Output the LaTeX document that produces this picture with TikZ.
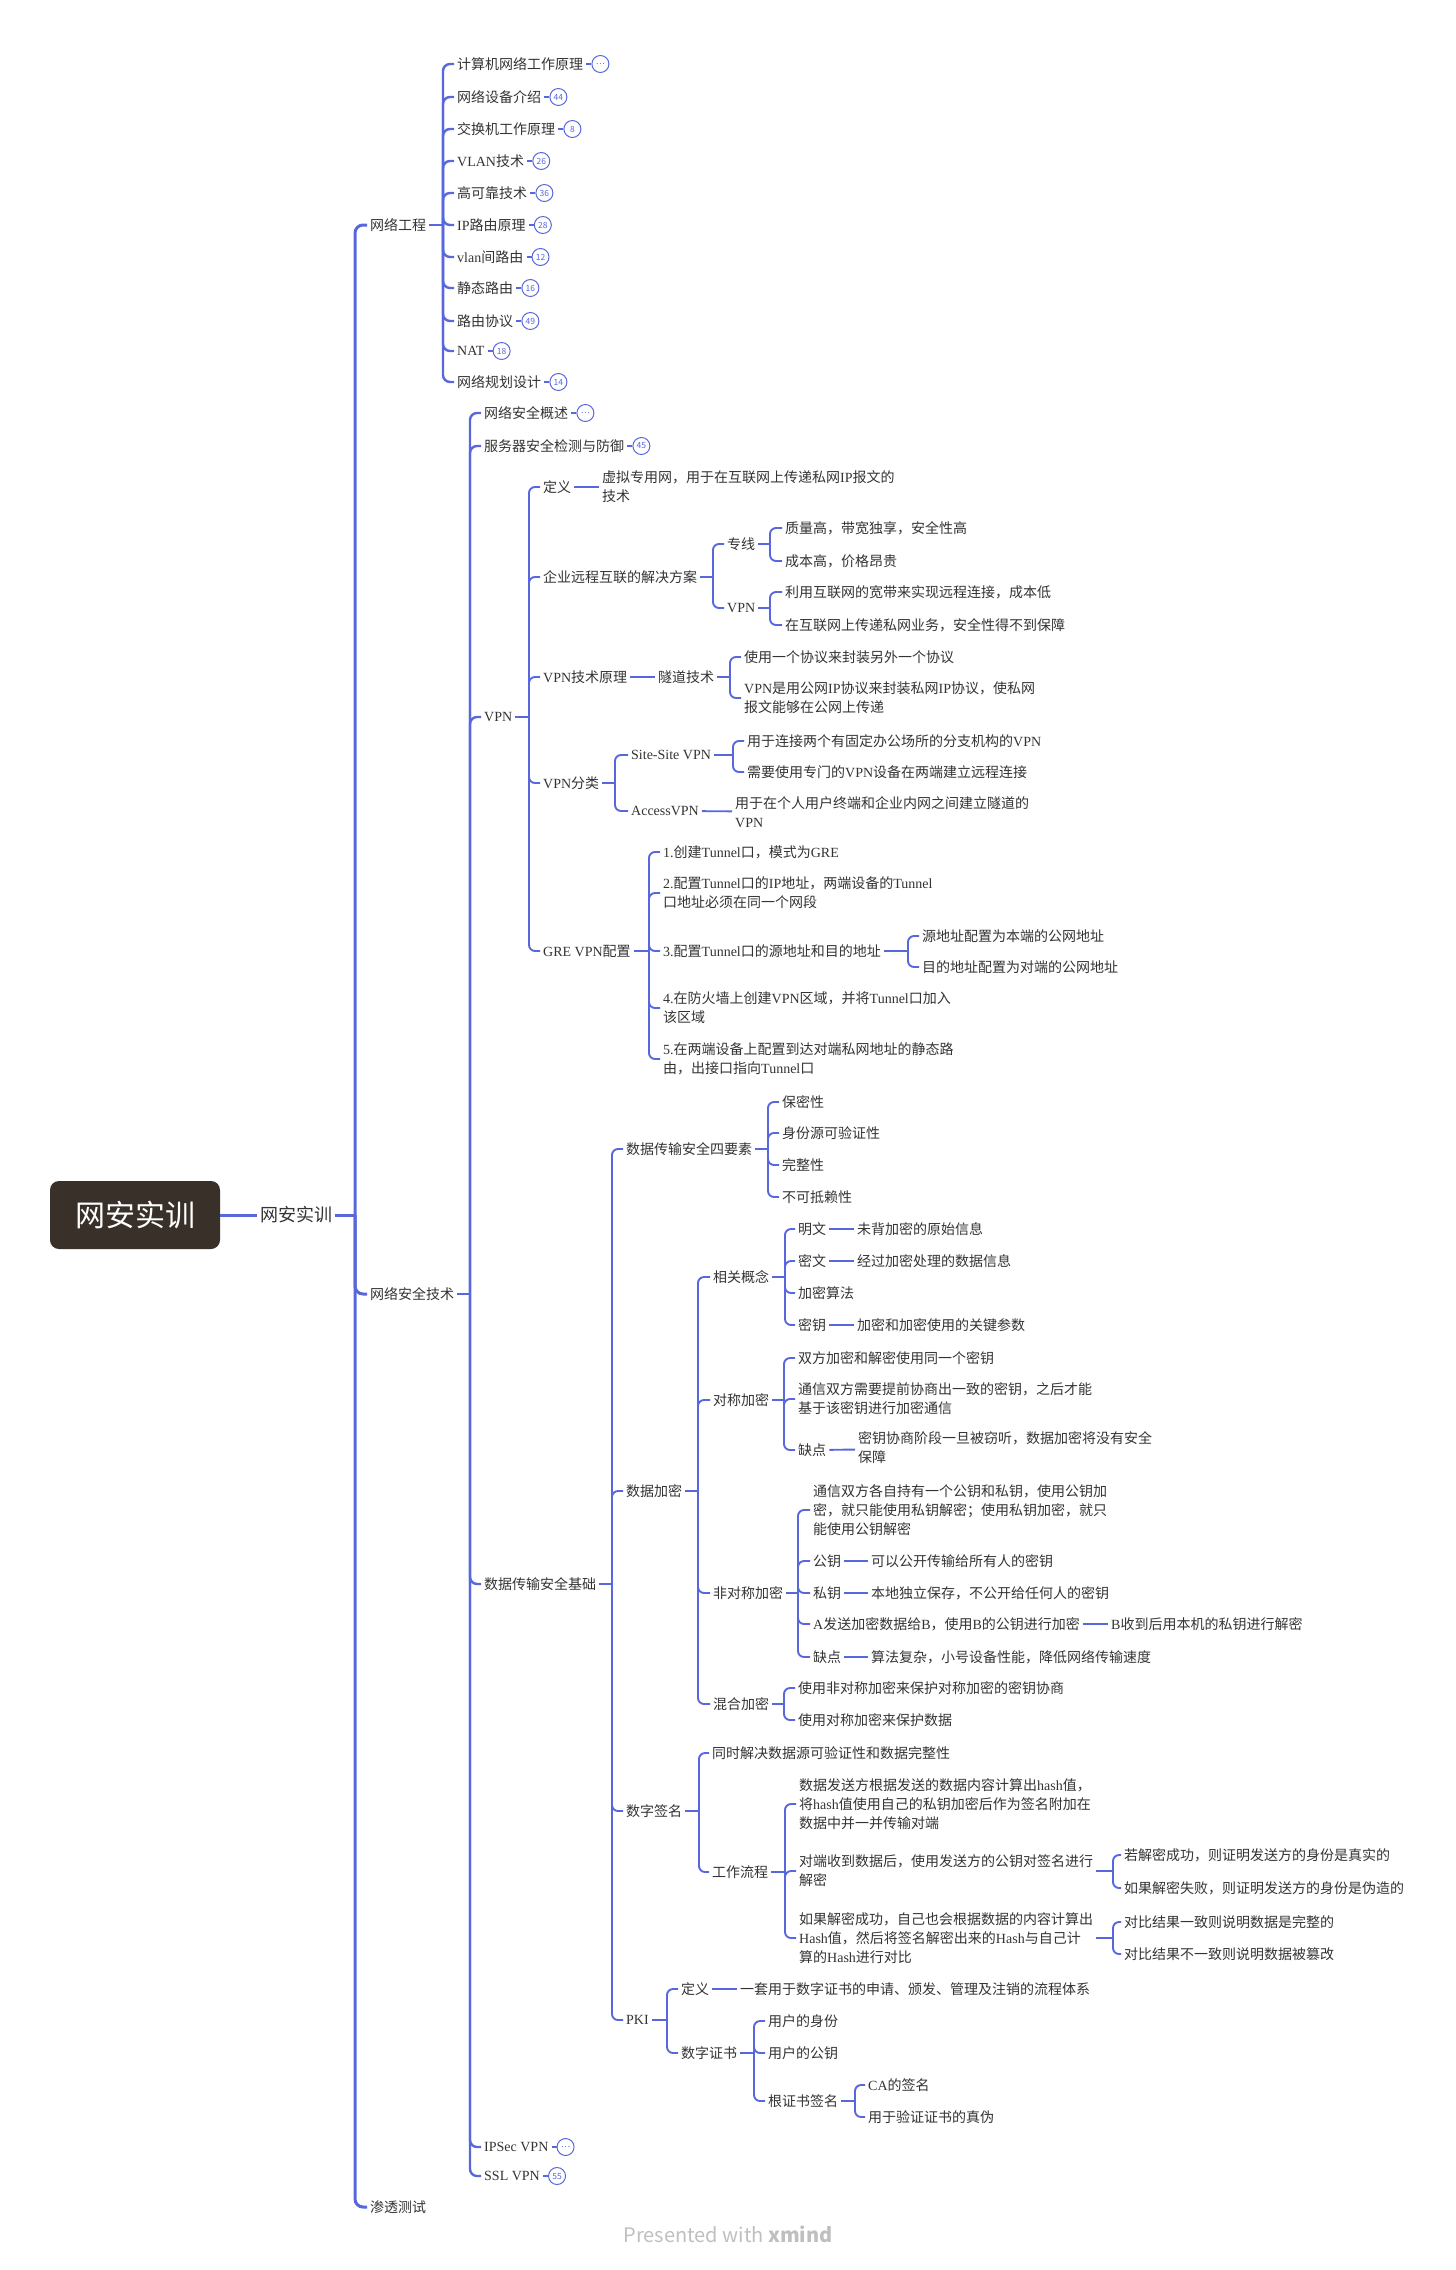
\documentclass[tikz,border=0pt]{standalone}
\usepackage{fontspec}
\setmainfont{Noto Sans CJK SC}
\newfontfamily\enfont{Liberation Serif}
\newcommand{\en}[1]{{\enfont #1}}
\newcommand{\more}{…}
\usetikzlibrary{positioning}
\definecolor{lk}{RGB}{88,104,220}
\definecolor{rootbg}{RGB}{57,49,41}
\definecolor{tx}{RGB}{51,51,51}
\begin{document}
\begin{tikzpicture}[x=1pt,y=-1pt,
	lk1/.style={draw=lk,line width=3pt,rounded corners=8pt},
	lk2/.style={draw=lk,line width=2.4pt,rounded corners=7pt},
	lk3/.style={draw=lk,line width=1.9pt,rounded corners=6pt},
	lkb/.style={draw=lk,line width=1.2pt},
	leaf/.style={anchor=west,xshift=-3pt,inner xsep=3pt,inner ysep=1pt,text=tx,align=left,font=\fontsize{14}{19}\selectfont},
	badge/.style={circle,draw=lk,line width=1pt,fill=white,minimum size=17pt,inner sep=0pt,text=lk,font=\fontsize{8.5}{8.5}\selectfont},
	root/.style={fill=rootbg,rounded corners=9pt,minimum width=170pt,minimum height=68pt,text=white,font=\fontsize{30}{30}\selectfont}]
		\useasboundingbox (0,0) rectangle (1456,2270);
		\node[root] (root) at (135,1215) {网安实训};
		\node[leaf,font=\fontsize{18}{18}\selectfont] (main) at (260,1215) {网安实训};
		\coordinate (s0) at (355,1215);
		\draw[lk1] (root.east) -- (main.west);
		\draw[lk1] (main.east) -- (s0);
		\node[leaf] (a) at (370,225) {网络工程};
		\node[leaf] (b) at (370,1294) {网络安全技术};
		\node[leaf] (c) at (370,2207) {渗透测试};
		\foreach \n in {a,b,c} \draw[lk1] (s0) |- (\n.west);
		\coordinate (sa) at (443,225);
		\draw[lk2] (a.east) -- (sa);
		\foreach \i/\y/\s/\m in {1/64/计算机网络工作原理/\more,2/97/网络设备介绍/44,3/129/交换机工作原理/8,4/161/{\en{VLAN}技术}/26,5/193/高可靠技术/36,6/225/{\en{IP}路由原理}/28,7/257/{\en{vlan}间路由}/12,8/288/静态路由/16,9/321/路由协议/49,10/351/{\en{NAT}}/18,11/382/网络规划设计/14}
		{
			\node[leaf] (a\i) at (457,\y) {\s};
			\node[badge,right=5pt of a\i] (a\i-b) {\m};
			\draw[lkb] (a\i) -- (a\i-b);
			\draw[lk2] (sa) |- (a\i.west);
		}
		\coordinate (sb) at (470,1294);
		\draw[lk2] (b.east) -- (sb);
		\node[leaf] (b1) at (484,413) {网络安全概述};
		\node[leaf] (b2) at (484,446) {服务器安全检测与防御};
		\node[leaf] (b3) at (484,717) {\en{VPN}};
		\node[leaf] (b4) at (484,1584) {数据传输安全基础};
		\node[leaf] (b5) at (484,2147) {\en{IPSec VPN}};
		\node[leaf] (b6) at (484,2176) {\en{SSL VPN}};
		\foreach \n in {b1,b2,b3,b4,b5,b6} \draw[lk2] (sb) |- (\n.west);
		\foreach \n/\m in {b1/\more,b2/45,b5/\more,b6/55}
		{
			\node[badge,right=5pt of \n] (\n-b) {\m};
			\draw[lkb] (\n) -- (\n-b);
		}
		\coordinate (s3) at (529,717);
		\draw[lk3] (b3.east) -- (s3);
		\node[leaf] (v1) at (543,487) {定义};
		\node[leaf] (v1a) at (602,487) {虚拟专用网，用于在互联网上传递私网\en{IP}报文的\\技术};
		\draw[lk3] (v1) -- (v1a);
		\node[leaf] (v2) at (543,577) {企业远程互联的解决方案};
		\node[leaf] (v3) at (543,677) {\en{VPN}技术原理};
		\node[leaf] (v4) at (543,783) {\en{VPN}分类};
		\node[leaf] (v5) at (543,951) {\en{GRE VPN}配置};
		\foreach \n in {v1,v2,v3,v4,v5} \draw[lk3] (s3) |- (\n.west);
		\coordinate (s32) at (713,577);
		\draw[lk3] (v2.east) -- (s32);
		\node[leaf] (v21) at (727,544) {专线};
		\node[leaf] (v22) at (727,608) {\en{VPN}};
		\foreach \n in {v21,v22} \draw[lk3] (s32) |- (\n.west);
		\coordinate (s321) at (770,544);
		\draw[lk3] (v21.east) -- (s321);
		\node[leaf] (v211) at (785,528) {质量高，带宽独享，安全性高};
		\node[leaf] (v212) at (785,561) {成本高，价格昂贵};
		\foreach \n in {v211,v212} \draw[lk3] (s321) |- (\n.west);
		\coordinate (s322) at (770,608);
		\draw[lk3] (v22.east) -- (s322);
		\node[leaf] (v221) at (785,592) {利用互联网的宽带来实现远程连接，成本低};
		\node[leaf] (v222) at (785,625) {在互联网上传递私网业务，安全性得不到保障};
		\foreach \n in {v221,v222} \draw[lk3] (s322) |- (\n.west);
		\node[leaf] (v3a) at (658,677) {隧道技术};
		\draw[lk3] (v3) -- (v3a);
		\coordinate (s33) at (730,677);
		\draw[lk3] (v3a.east) -- (s33);
		\node[leaf] (v3a1) at (744,657) {使用一个协议来封装另外一个协议};
		\node[leaf] (v3a2) at (744,698) {\en{VPN}是用公网\en{IP}协议来封装私网\en{IP}协议，使私网\\报文能够在公网上传递};
		\foreach \n in {v3a1,v3a2} \draw[lk3] (s33) |- (\n.west);
		\coordinate (s34) at (615,783);
		\draw[lk3] (v4.east) -- (s34);
		\node[leaf] (v41) at (631,755) {\en{Site-Site VPN}};
		\node[leaf] (v42) at (631,811) {\en{AccessVPN}};
		\foreach \n in {v41,v42} \draw[lk3] (s34) |- (\n.west);
		\coordinate (s341) at (733,755);
		\draw[lk3] (v41.east) -- (s341);
		\node[leaf] (v411) at (747,741) {用于连接两个有固定办公场所的分支机构的\en{VPN}};
		\node[leaf] (v412) at (747,772) {需要使用专门的\en{VPN}设备在两端建立远程连接};
		\foreach \n in {v411,v412} \draw[lk3] (s341) |- (\n.west);
		\node[leaf] (v42a) at (735,812) {用于在个人用户终端和企业内网之间建立隧道的\\\en{VPN}};
		\draw[lk3] (v42) -- (v42a);
		\coordinate (s35) at (649,951);
		\draw[lk3] (v5.east) -- (s35);
		\node[leaf] (g1) at (663,852) {\en{1.}创建\en{Tunnel}口，模式为\en{GRE}};
		\node[leaf] (g2) at (663,893) {\en{2.}配置\en{Tunnel}口的\en{IP}地址，两端设备的\en{Tunnel}\\口地址必须在同一个网段};
		\node[leaf] (g3) at (663,951) {\en{3.}配置\en{Tunnel}口的源地址和目的地址};
		\node[leaf] (g4) at (663,1008) {\en{4.}在防火墙上创建\en{VPN}区域，并将\en{Tunnel}口加入\\该区域};
		\node[leaf] (g5) at (663,1059) {\en{5.}在两端设备上配置到达对端私网地址的静态路\\由，出接口指向\en{Tunnel}口};
		\foreach \n in {g1,g2,g3,g4,g5} \draw[lk3] (s35) |- (\n.west);
		\coordinate (s353) at (908,951);
		\draw[lk3] (g3.east) -- (s353);
		\node[leaf] (g31) at (922,936) {源地址配置为本端的公网地址};
		\node[leaf] (g32) at (922,967) {目的地址配置为对端的公网地址};
		\foreach \n in {g31,g32} \draw[lk3] (s353) |- (\n.west);
		\coordinate (s4) at (612,1584);
		\draw[lk3] (b4.east) -- (s4);
		\node[leaf] (d1) at (626,1149) {数据传输安全四要素};
		\node[leaf] (d2) at (626,1491) {数据加密};
		\node[leaf] (d3) at (626,1811) {数字签名};
		\node[leaf] (d4) at (626,2020) {\en{PKI}};
		\foreach \n in {d1,d2,d3,d4} \draw[lk3] (s4) |- (\n.west);
		\coordinate (s41) at (768,1149);
		\draw[lk3] (d1.east) -- (s41);
		\node[leaf] (d11) at (782,1102) {保密性};
		\node[leaf] (d12) at (782,1133) {身份源可验证性};
		\node[leaf] (d13) at (782,1165) {完整性};
		\node[leaf] (d14) at (782,1197) {不可抵赖性};
		\foreach \n in {d11,d12,d13,d14} \draw[lk3] (s41) |- (\n.west);
		\coordinate (s42) at (698,1491);
		\draw[lk3] (d2.east) -- (s42);
		\node[leaf] (e1) at (713,1277) {相关概念};
		\node[leaf] (e2) at (713,1400) {对称加密};
		\node[leaf] (e3) at (713,1593) {非对称加密};
		\node[leaf] (e4) at (713,1704) {混合加密};
		\foreach \n in {e1,e2,e3,e4} \draw[lk3] (s42) |- (\n.west);
		\coordinate (s421) at (785,1277);
		\draw[lk3] (e1.east) -- (s421);
		\node[leaf] (e11) at (798,1229) {明文};
		\node[leaf] (e12) at (798,1261) {密文};
		\node[leaf] (e13) at (798,1293) {加密算法};
		\node[leaf] (e14) at (798,1325) {密钥};
		\foreach \n in {e11,e12,e13,e14} \draw[lk3] (s421) |- (\n.west);
		\node[leaf] (e11a) at (857,1229) {未背加密的原始信息};
		\node[leaf] (e12a) at (857,1261) {经过加密处理的数据信息};
		\node[leaf] (e14a) at (857,1325) {加密和加密使用的关键参数};
		\foreach \n in {e11,e12,e14} \draw[lk3] (\n) -- (\n a);
		\coordinate (s422) at (784,1400);
		\draw[lk3] (e2.east) -- (s422);
		\node[leaf] (e21) at (798,1358) {双方加密和解密使用同一个密钥};
		\node[leaf] (e22) at (798,1399) {通信双方需要提前协商出一致的密钥，之后才能\\基于该密钥进行加密通信};
		\node[leaf] (e23) at (798,1450) {缺点};
		\foreach \n in {e21,e22,e23} \draw[lk3] (s422) |- (\n.west);
		\node[leaf] (e23a) at (858,1448) {密钥协商阶段一旦被窃听，数据加密将没有安全\\保障};
		\draw[lk3] (e23) -- (e23a);
		\coordinate (s423) at (798,1593);
		\draw[lk3] (e3.east) -- (s423);
		\node[leaf] (e31) at (813,1510) {通信双方各自持有一个公钥和私钥，使用公钥加\\密，就只能使用私钥解密；使用私钥加密，就只\\能使用公钥解密};
		\node[leaf] (e32) at (813,1561) {公钥};
		\node[leaf] (e33) at (813,1593) {私钥};
		\node[leaf] (e34) at (813,1624) {\en{A}发送加密数据给\en{B}，使用\en{B}的公钥进行加密};
		\node[leaf] (e35) at (813,1657) {缺点};
		\foreach \n in {e31,e32,e33,e34,e35} \draw[lk3] (s423) |- (\n.west);
		\node[leaf] (e32a) at (871,1561) {可以公开传输给所有人的密钥};
		\node[leaf] (e33a) at (871,1593) {本地独立保存，不公开给任何人的密钥};
		\node[leaf] (e34a) at (1111,1624) {\en{B}收到后用本机的私钥进行解密};
		\node[leaf] (e35a) at (871,1657) {算法复杂，小号设备性能，降低网络传输速度};
		\foreach \n in {e32,e33,e34,e35} \draw[lk3] (\n) -- (\n a);
		\coordinate (s424) at (784,1704);
		\draw[lk3] (e4.east) -- (s424);
		\node[leaf] (e41) at (798,1688) {使用非对称加密来保护对称加密的密钥协商};
		\node[leaf] (e42) at (798,1720) {使用对称加密来保护数据};
		\foreach \n in {e41,e42} \draw[lk3] (s424) |- (\n.west);
		\coordinate (s43) at (699,1811);
		\draw[lk3] (d3.east) -- (s43);
		\node[leaf] (f1) at (712,1753) {同时解决数据源可验证性和数据完整性};
		\node[leaf] (f2) at (712,1872) {工作流程};
		\foreach \n in {f1,f2} \draw[lk3] (s43) |- (\n.west);
		\coordinate (s432) at (785,1872);
		\draw[lk3] (f2.east) -- (s432);
		\node[leaf] (f21) at (799,1804) {数据发送方根据发送的数据内容计算出\en{hash}值，\\将\en{hash}值使用自己的私钥加密后作为签名附加在\\数据中并一并传输对端};
		\node[leaf] (f22) at (799,1871) {对端收到数据后，使用发送方的公钥对签名进行\\解密};
		\node[leaf] (f23) at (799,1938) {如果解密成功，自己也会根据数据的内容计算出\\\en{Hash}值，然后将签名解密出来的\en{Hash}与自己计\\算的\en{Hash}进行对比};
		\foreach \n in {f21,f22,f23} \draw[lk3] (s432) |- (\n.west);
		\coordinate (s4322) at (1113,1871);
		\draw[lk3] (f22.east) -- (s4322);
		\node[leaf] (f221) at (1124,1855) {若解密成功，则证明发送方的身份是真实的};
		\node[leaf] (f222) at (1124,1888) {如果解密失败，则证明发送方的身份是伪造的};
		\foreach \n in {f221,f222} \draw[lk3] (s4322) |- (\n.west);
		\coordinate (s4323) at (1113,1938);
		\draw[lk3] (f23.east) -- (s4323);
		\node[leaf] (f231) at (1124,1922) {对比结果一致则说明数据是完整的};
		\node[leaf] (f232) at (1124,1954) {对比结果不一致则说明数据被篡改};
		\foreach \n in {f231,f232} \draw[lk3] (s4323) |- (\n.west);
		\coordinate (s44) at (667,2020);
		\draw[lk3] (d4.east) -- (s44);
		\node[leaf] (p1) at (681,1989) {定义};
		\node[leaf] (p2) at (681,2053) {数字证书};
		\foreach \n in {p1,p2} \draw[lk3] (s44) |- (\n.west);
		\node[leaf] (p1a) at (740,1989) {一套用于数字证书的申请、颁发、管理及注销的流程体系};
		\draw[lk3] (p1) -- (p1a);
		\coordinate (s442) at (754,2053);
		\draw[lk3] (p2.east) -- (s442);
		\node[leaf] (p21) at (768,2021) {用户的身份};
		\node[leaf] (p22) at (768,2053) {用户的公钥};
		\node[leaf] (p23) at (768,2101) {根证书签名};
		\foreach \n in {p21,p22,p23} \draw[lk3] (s442) |- (\n.west);
		\coordinate (s4423) at (855,2101);
		\draw[lk3] (p23.east) -- (s4423);
		\node[leaf] (p231) at (868,2085) {\en{CA}的签名};
		\node[leaf] (p232) at (868,2117) {用于验证证书的真伪};
		\foreach \n in {p231,p232} \draw[lk3] (s4423) |- (\n.west);
		\node[text=black!25,font=\fontsize{20}{20}\selectfont] (mark) at (728,2234) {Presented with \textbf{xmind}};
	\end{tikzpicture}
\end{document}
